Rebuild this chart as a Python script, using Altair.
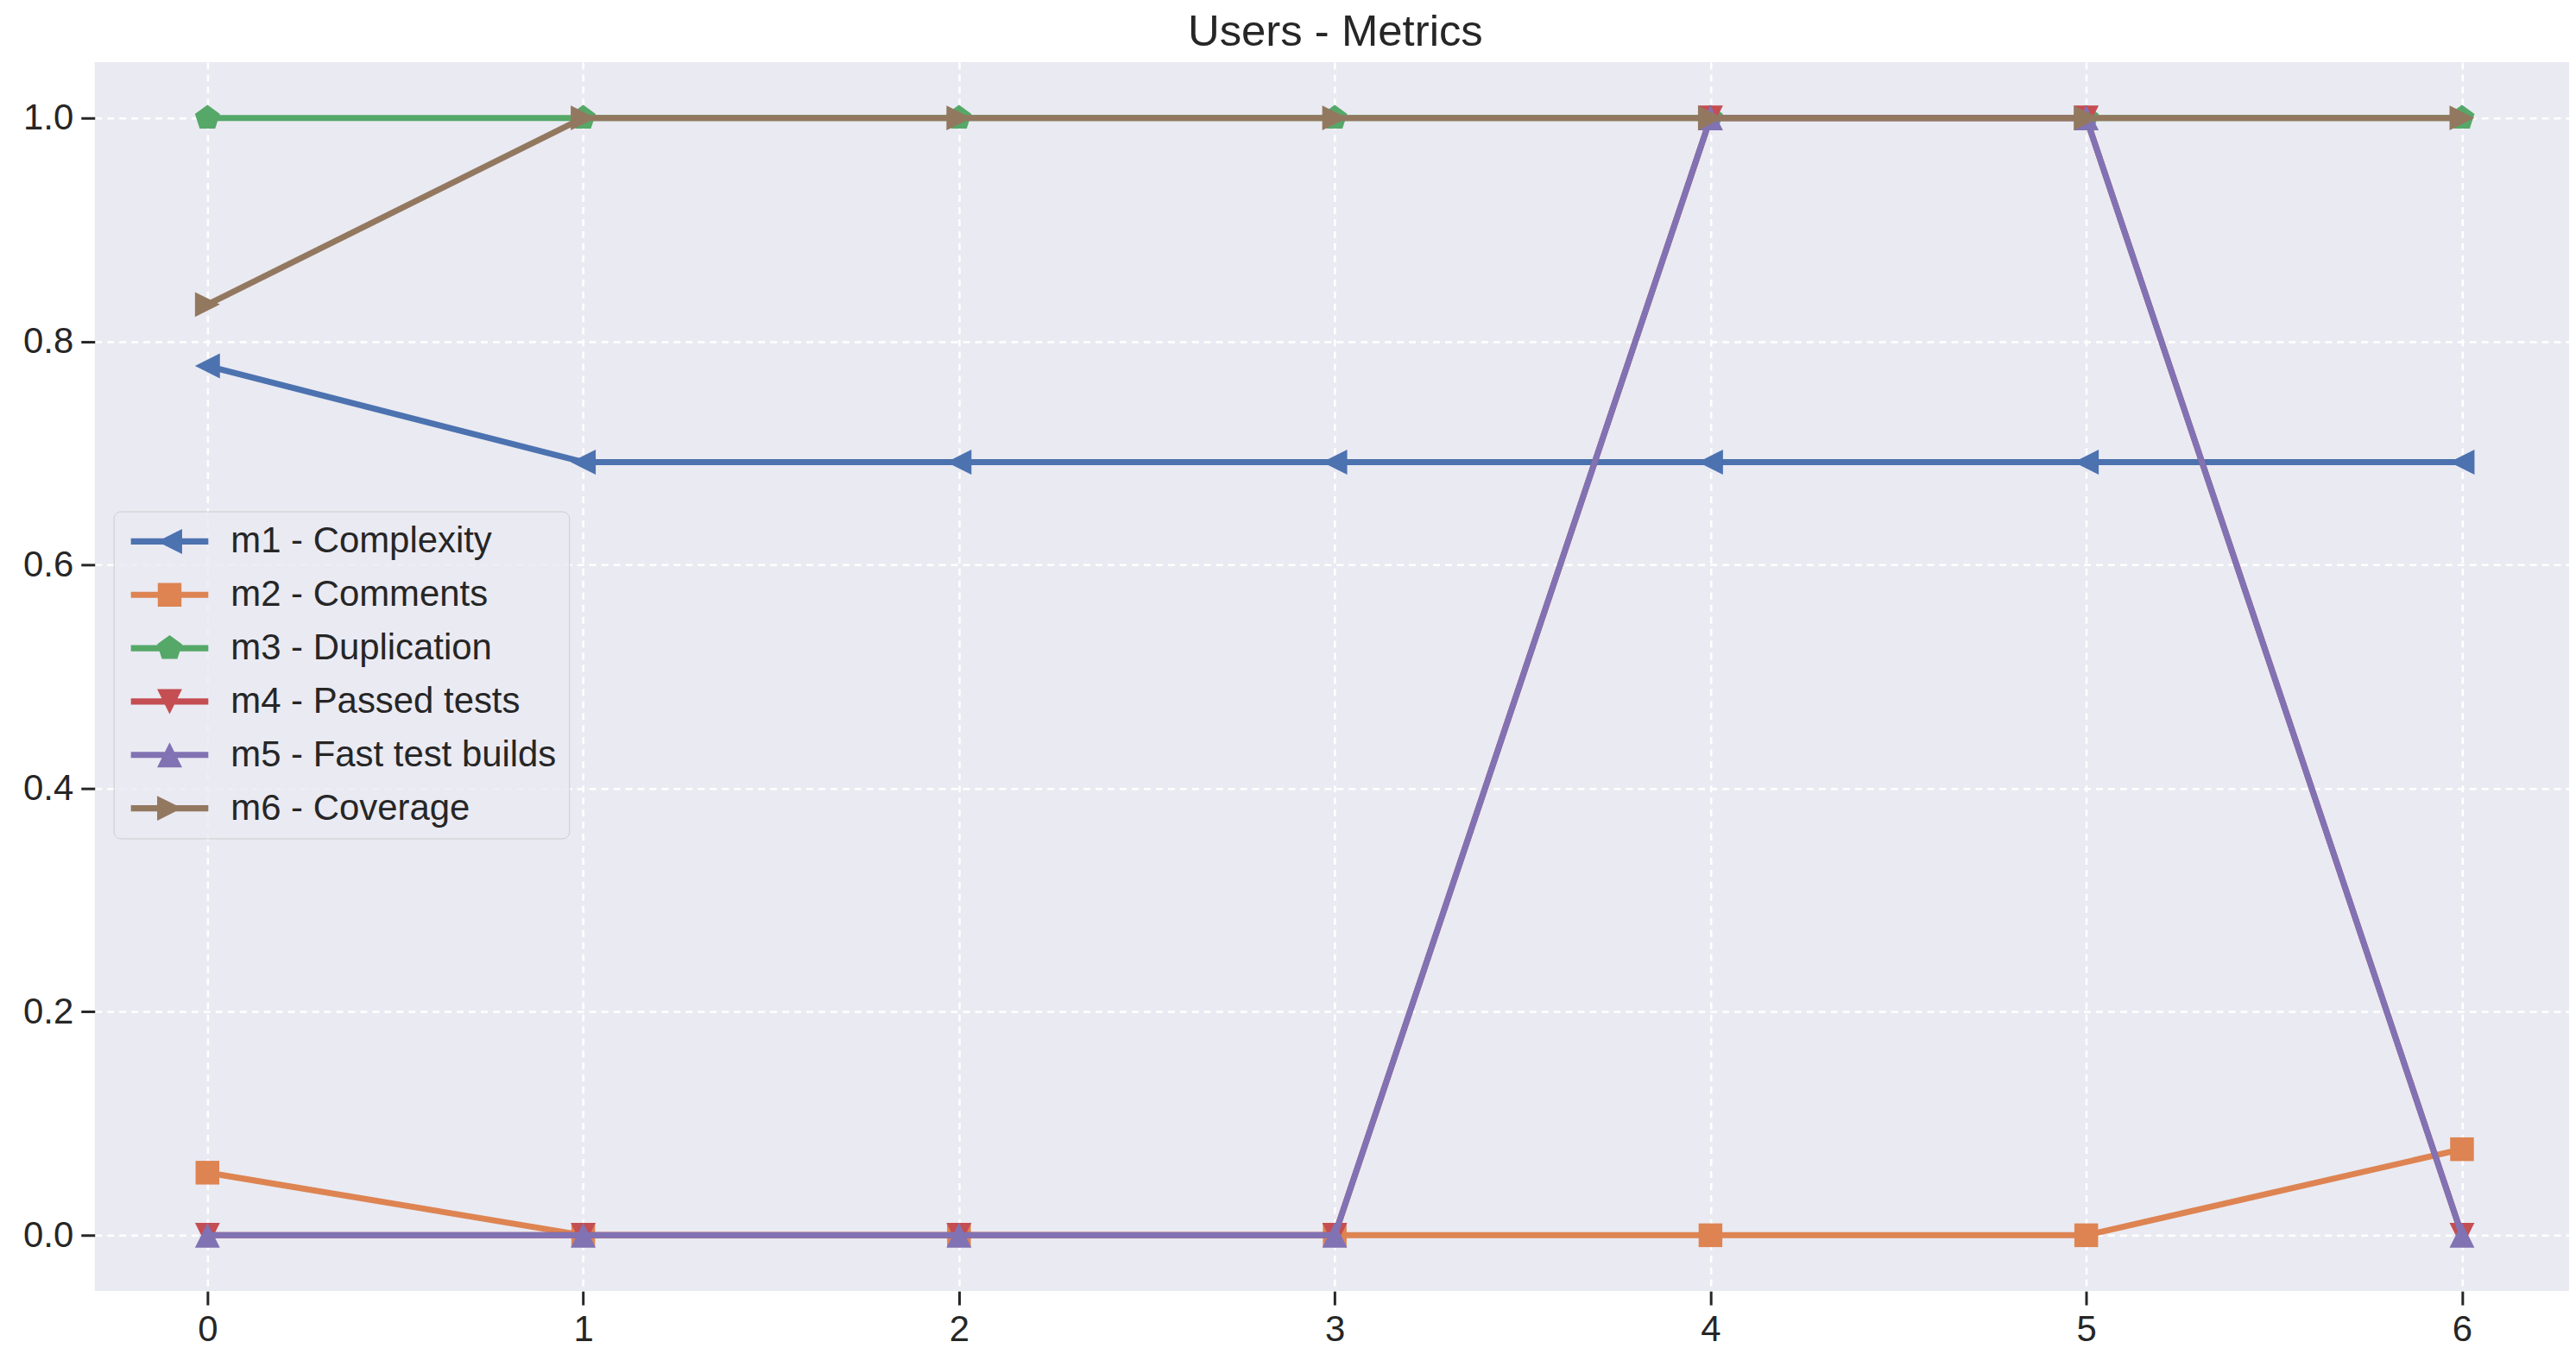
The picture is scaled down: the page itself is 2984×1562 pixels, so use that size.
import altair as alt
import pandas as pd

# ---- data ----
x_vals = [0, 1, 2, 3, 4, 5, 6]
series_names = [
    "m1 - Complexity",
    "m2 - Comments",
    "m3 - Duplication",
    "m4 - Passed tests",
    "m5 - Fast test builds",
    "m6 - Coverage",
]
m1 = [0.778, 0.692, 0.692, 0.692, 0.692, 0.692, 0.692]
m2 = [0.056, 0.0, 0.0, 0.0, 0.0, 0.0, 0.077]
m3 = [1.0, 1.0, 1.0, 1.0, 1.0, 1.0, 1.0]
m4 = [0.0, 0.0, 0.0, 0.0, 1.0, 1.0, 0.0]
m5 = [0.0, 0.0, 0.0, 0.0, 1.0, 1.0, 0.0]
m6 = [0.833, 1.0, 1.0, 1.0, 1.0, 1.0, 1.0]
y_ticks = [0.0, 0.2, 0.4, 0.6, 0.8, 1.0]

# ---- styles ----
colors = ["#4C72B0", "#DD8452", "#55A868", "#C44E52", "#8172B3", "#937860"]
marker_paths = [
    "M-1,0L1,-1L1,1Z",                                   # triangle left
    "M-0.95,-0.95L0.95,-0.95L0.95,0.95L-0.95,0.95Z",     # square
    "M0,-1.05L1,-0.32L0.62,0.85L-0.62,0.85L-1,-0.32Z",   # pentagon
    "M0,1L-1,-1L1,-1Z",                                  # triangle down
    "M0,-1L1,1L-1,1Z",                                   # triangle up
    "M1,0L-1,1L-1,-1Z",                                  # triangle right
]
legend_line = "M-3.1,-0.25L3.1,-0.25L3.1,0.25L-3.1,0.25Z"
legend_paths = [p + legend_line for p in marker_paths]
FONT = "Liberation Sans"
TEXT = "#262626"

series_values = [m1, m2, m3, m4, m5, m6]
rows = []
for name, vals in zip(series_names, series_values):
    for xv, yv in zip(x_vals, vals):
        rows.append({"x": xv, "value": yv, "series": name})
df = pd.DataFrame(rows)

x_enc = alt.X(
    "x:Q",
    scale=alt.Scale(domain=[-0.3, 6.285], nice=False, zero=False),
    axis=alt.Axis(
        values=x_vals, format="d", title=None, labelAngle=0,
        labelFont=FONT, labelFontSize=42, labelColor=TEXT, labelPadding=9,
        tickSize=16, tickWidth=3, tickColor=TEXT, domain=False,
        grid=True, gridColor="white", gridDash=[8, 6], gridWidth=2.5,
    ),
)
y_enc = alt.Y(
    "value:Q",
    scale=alt.Scale(domain=[-0.05, 1.05], nice=False, zero=False),
    axis=alt.Axis(
        values=y_ticks, format=".1f", title=None,
        labelFont=FONT, labelFontSize=42, labelColor=TEXT, labelPadding=9,
        tickSize=16, tickWidth=3, tickColor=TEXT, domain=False,
        grid=True, gridColor="white", gridDash=[8, 6], gridWidth=2.5,
    ),
)
legend = alt.Legend(
    title=None, orient="none", legendX=22, legendY=522,
    padding=14, rowPadding=20, cornerRadius=8,
    fillColor="rgba(234,234,242,0.8)", strokeColor="#CCCCCC",
    symbolSize=841, symbolOffset=30, symbolStrokeWidth=0, symbolOpacity=1,
    labelOffset=50, labelFont=FONT, labelFontSize=42, labelColor=TEXT,
    labelLimit=1000, labelExpr="datum.label + '  '",
)

layers = []
for name, col, path in zip(series_names, colors, marker_paths):
    base = alt.Chart(df).transform_filter(alt.datum.series == name)
    layers.append(
        base.mark_line(strokeWidth=7, strokeJoin="round", color=col).encode(
            x=x_enc, y=y_enc
        )
    )
    layers.append(
        base.mark_point(
            filled=True, size=841, opacity=1, strokeWidth=0, color=col, shape=path
        ).encode(x=x_enc, y=y_enc)
    )

# legend carrier: no marks drawn (empty after filter), only supplies the legend
legend_layer = (
    alt.Chart(df)
    .transform_filter(alt.datum.x < -100)
    .mark_point(filled=True, size=841, strokeWidth=0)
    .encode(
        x=x_enc,
        y=y_enc,
        color=alt.Color("series:N", scale=alt.Scale(domain=series_names, range=colors), legend=legend),
        shape=alt.Shape("series:N", scale=alt.Scale(domain=series_names, range=legend_paths), legend=legend),
    )
)
layers.append(legend_layer)

chart = (
    alt.layer(*layers)
    .properties(
        width=2874,
        height=1428,
        title=alt.TitleParams(
            "Users - Metrics", font=FONT, fontSize=51, fontWeight="normal",
            color=TEXT, anchor="middle", frame="group", offset=8, dx=4,
        ),
        padding={"left": 102, "top": 62, "right": 0, "bottom": 64},
        autosize=alt.AutoSizeParams(type="none"),
    )
    .configure(background="white")
    .configure_view(fill="#EAEAF2", strokeWidth=0)
)

chart.save("out.html", embed_options={"renderer": "svg", "actions": False})
